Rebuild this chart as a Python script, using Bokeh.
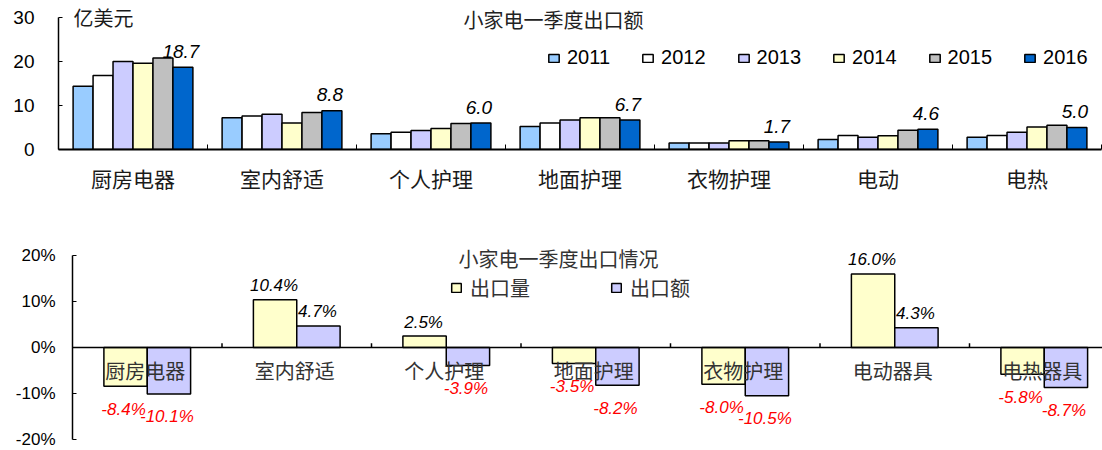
from bokeh.plotting import figure
from bokeh.models import Range1d, FixedTicker, Legend, LegendItem, ColumnDataSource, Span, Label
from bokeh.core.properties import value
from bokeh.embed import file_html
from bokeh.resources import INLINE

# ---------------- data ----------------
categories_top = ["厨房电器", "室内舒适", "个人护理", "地面护理", "衣物护理", "电动", "电热"]
years = ["2011", "2012", "2013", "2014", "2015", "2016"]
v2011 = [14.4, 7.2, 3.6, 5.2, 1.5, 2.3, 2.8]
v2012 = [16.8, 7.6, 3.9, 6.0, 1.5, 3.2, 3.2]
v2013 = [20.0, 8.0, 4.3, 6.7, 1.5, 2.8, 3.9]
v2014 = [19.6, 6.0, 4.8, 7.2, 2.0, 3.1, 5.1]
v2015 = [20.8, 8.4, 5.9, 7.2, 2.0, 4.4, 5.5]
v2016 = [18.7, 8.8, 6.0, 6.7, 1.7, 4.6, 5.0]
top_ticks = [0, 10, 20, 30]
top_tick_labels = ["0", "10", "20", "30"]

categories_bot = ["厨房电器", "室内舒适", "个人护理", "地面护理", "衣物护理", "电动器具", "电热器具"]
series_bot = ["出口量", "出口额"]
volume = [-8.4, 10.4, 2.5, -3.5, -8.0, 16.0, -5.8]
amount = [-10.1, 4.7, -3.9, -8.2, -10.5, 4.3, -8.7]
bot_ticks = [-20, -10, 0, 10, 20]
bot_tick_labels = ["-20%", "-10%", "0%", "10%", "20%"]

year_colors = ["#99CCFF", "#FFFFFF", "#CCCCFF", "#FFFFCC", "#C0C0C0", "#0066CC"]
bot_colors = ["#FFFFCC", "#CCCCFF"]

CJK = "Noto Sans CJK SC"
LAT = "Liberation Sans"

# ---------------- top chart ----------------
n = len(categories_top)
p1 = figure(width=1102, height=215, output_backend="svg", toolbar_location=None,
            x_range=Range1d(0, n), y_range=Range1d(0, 30 * 149 / 132),
            min_border_left=58, min_border_right=1, min_border_top=0, min_border_bottom=66)
p1.title.visible = False
p1.outline_line_color = None
p1.xgrid.visible = False
p1.ygrid.visible = False

bw = 0.134
series_top = [v2011, v2012, v2013, v2014, v2015, v2016]
renderers = []
for j, (vals, col) in enumerate(zip(series_top, year_colors)):
    xs = [i + 0.5 + (j - 2.5) * bw for i in range(n)]
    src = ColumnDataSource(dict(x=xs, top=vals))
    r = p1.vbar(x="x", top="top", bottom=0, width=bw, source=src,
                fill_color=col, line_color="black", line_width=1.5)
    renderers.append(r)

lx = [i + 0.5 + 2.5 * bw for i in range(n)]
p1.text(x=lx, y=v2016, text=[f"{v:.1f}" for v in v2016], text_align="center",
        text_baseline="alphabetic", x_offset=-2, y_offset=-16, text_font=value(LAT),
        text_font_style="italic", text_font_size="19px", text_color="black")

xa = p1.xaxis[0]
xa.ticker = FixedTicker(ticks=[i + 0.5 for i in range(n)], minor_ticks=list(range(1, n + 1)))
xa.major_label_overrides = {i + 0.5: c for i, c in enumerate(categories_top)}
xa.major_tick_in = 0
xa.major_tick_out = 0
xa.minor_tick_in = 5
xa.minor_tick_out = 0
xa.minor_tick_line_color = "black"
xa.axis_line_color = "black"
xa.axis_line_width = 2
xa.major_label_standoff = 13
xa.major_label_text_font = CJK
xa.major_label_text_font_size = "21px"
xa.major_label_text_color = "#1a1a1a"

ya = p1.yaxis[0]
ya.ticker = FixedTicker(ticks=top_ticks, minor_ticks=[])
ya.bounds = (0, 30)
ya.major_label_overrides = {t: l for t, l in zip(top_ticks, top_tick_labels)}
ya.major_tick_in = 4
ya.major_tick_out = 0
ya.axis_line_color = "black"
ya.axis_line_width = 1.5
ya.major_label_standoff = 24
ya.major_label_text_font = LAT
ya.major_label_text_font_size = "19px"
ya.major_label_text_color = "black"

p1.add_layout(Label(x=15, y=132, x_units="screen", y_units="screen", text="亿美元",
                    text_font=CJK, text_font_size="20px", text_baseline="middle",
                    text_color="#1a1a1a"))
p1.add_layout(Label(x=495, y=130, x_units="screen", y_units="screen", text="小家电一季度出口额",
                    text_font=CJK, text_font_size="20px", text_baseline="middle",
                    text_align="center", text_color="#222222"))

leg1 = Legend(items=[LegendItem(label=y, renderers=[r]) for y, r in zip(years, renderers)],
              orientation="horizontal", location=(489, 80), glyph_width=13, glyph_height=10,
              label_standoff=7, spacing=31, padding=0, margin=0, border_line_color=None,
              background_fill_alpha=0, label_text_font=LAT, label_text_font_size="20px",
              label_text_color="black")
p1.add_layout(leg1)

# ---------------- bottom chart ----------------
m = len(categories_bot)
p2 = figure(width=1102, height=235, output_backend="svg", toolbar_location=None,
            x_range=Range1d(0, 1030 / 149.5), y_range=Range1d(-20, 20 + 20 / 4.6),
            min_border_left=72, min_border_right=0, min_border_top=20, min_border_bottom=11)
p2.title.visible = False
p2.outline_line_color = None
p2.xgrid.visible = False
p2.ygrid.visible = False
p2.xaxis.visible = False

bw2 = 0.29
bot_series = [volume, amount]
bot_r = []
for j, (vals, col) in enumerate(zip(bot_series, bot_colors)):
    xs = [i + 0.5 + (j - 0.5) * bw2 for i in range(m)]
    src = ColumnDataSource(dict(x=xs, top=vals))
    r = p2.vbar(x="x", top="top", bottom=0, width=bw2, source=src,
                fill_color=col, line_color="black", line_width=1.5)
    bot_r.append(r)

p2.add_layout(Span(location=0, dimension="width", line_color="black", line_width=1.5))
p2.segment(x0=list(range(1, m + 1)), y0=[0] * m, x1=list(range(1, m + 1)), y1=[0.9] * m,
           line_color="black", line_width=1.5)

p2.text(x=[i + 0.5 for i in range(m)], y=[0] * m, text=categories_bot, x_offset=-2, y_offset=23,
        text_align="center", text_baseline="middle", text_font=value(CJK),
        text_font_size="20px", text_color="#333333")

for j, vals in enumerate(bot_series):
    xs = [i + 0.5 + (j - 0.5) * bw2 for i in range(m)]
    pos = [(x, v) for x, v in zip(xs, vals) if v >= 0]
    neg = [(x, v) for x, v in zip(xs, vals) if v < 0]
    if pos:
        p2.text(x=[a for a, b in pos], y=[b for a, b in pos], text=[f"{b:.1f}%" for a, b in pos],
                x_offset=-1, y_offset=-14, text_align="center", text_baseline="alphabetic",
                text_font=value(LAT), text_font_style="italic", text_font_size="17px",
                text_color="black")
    if neg:
        p2.text(x=[a for a, b in neg], y=[b for a, b in neg], text=[f"{b:.1f}%" for a, b in neg],
                x_offset=-2, y_offset=23, text_align="center", text_baseline="alphabetic",
                text_font=value(LAT), text_font_style="italic", text_font_size="17px",
                text_color="#FF0000")

ya2 = p2.yaxis[0]
ya2.ticker = FixedTicker(ticks=bot_ticks, minor_ticks=[])
ya2.bounds = (-20, 20)
ya2.major_label_overrides = {t: l for t, l in zip(bot_ticks, bot_tick_labels)}
ya2.major_tick_in = 4
ya2.major_tick_out = 0
ya2.axis_line_color = "black"
ya2.axis_line_width = 1.5
ya2.major_label_standoff = 17
ya2.major_label_text_font = LAT
ya2.major_label_text_font_size = "17px"
ya2.major_label_text_color = "black"

p2.add_layout(Label(x=486, y=181, x_units="screen", y_units="screen", text="小家电一季度出口情况",
                    text_font=CJK, text_font_size="20px", text_baseline="middle",
                    text_align="center", text_color="#333333"))

leg2 = Legend(items=[LegendItem(label=s, renderers=[r]) for s, r in zip(series_bot, bot_r)],
              orientation="horizontal", location=(378, 137), glyph_width=12, glyph_height=11,
              label_standoff=8, spacing=80, padding=0, margin=0, border_line_color=None,
              background_fill_alpha=0, label_text_font=CJK, label_text_font_size="20px",
              label_text_color="#333333")
p2.add_layout(leg2)

open("out.html", "w").write(file_html([p1, p2], INLINE))
